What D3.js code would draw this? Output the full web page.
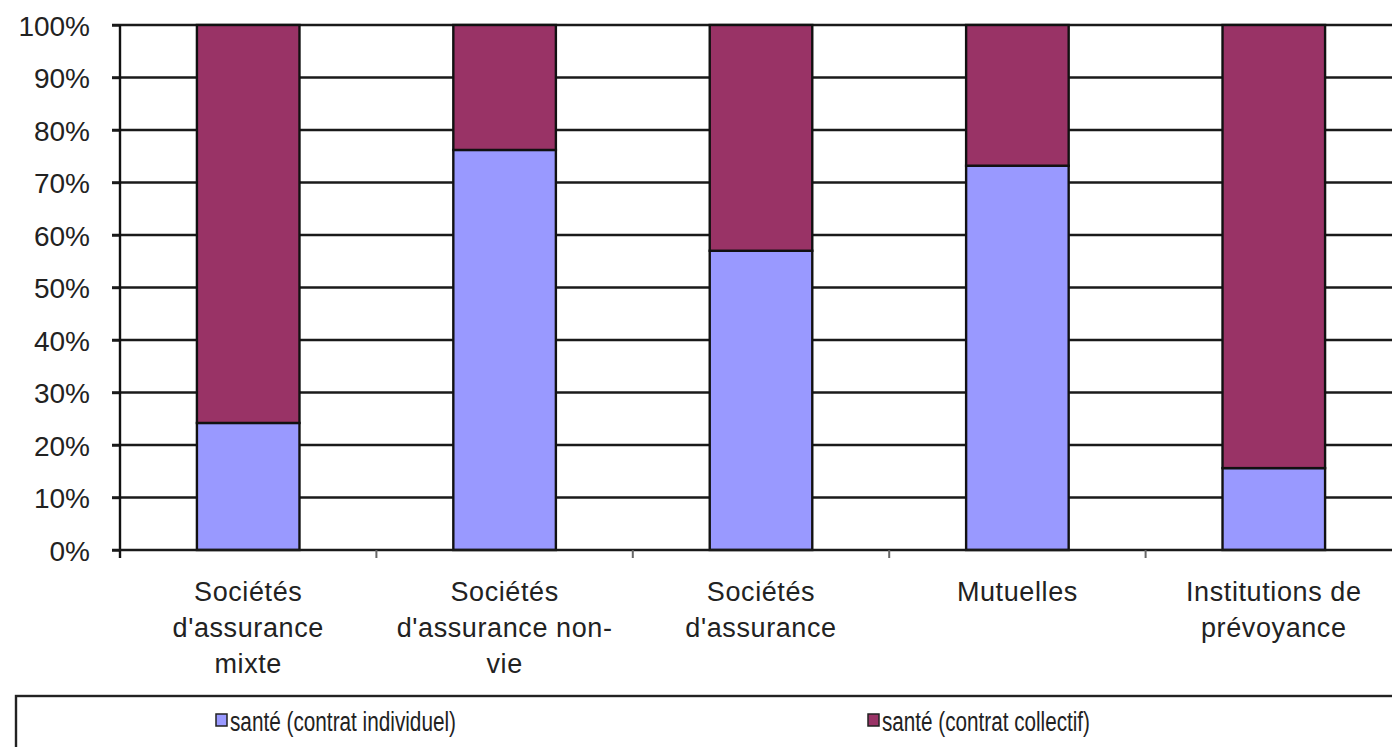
<!DOCTYPE html>
<html>
<head>
<meta charset="utf-8">
<script src="https://cdn.jsdelivr.net/npm/d3@7"></script>
<style>
  body { margin: 0; background: #fff; }
  svg { display: block; font-family: "Liberation Sans", Arial, sans-serif; }
</style>
</head>
<body>
<div id="chart"></div>
<script>
// chart values
var categories = ["mixte", "nonvie", "assurance", "mutuelles", "ip"];
var categoryLabels = [
    ["Sociétés", "d'assurance", "mixte"],
    ["Sociétés", "d'assurance non-", "vie"],
    ["Sociétés", "d'assurance"],
    ["Mutuelles"],
    ["Institutions de", "prévoyance"]
];
var individuel = [24.2, 76.2, 57.0, 73.2, 15.6];
var collectif = [75.8, 23.8, 43.0, 26.8, 84.4];
var seriesNames = ["santé  (contrat individuel)", "santé (contrat collectif)"];
var seriesColors = ["#9999ff", "#993366"];
var yTicks = [0, 10, 20, 30, 40, 50, 60, 70, 80, 90, 100];

var width = 1392;
var height = 747;
var margin = {top: 25, right: -10, bottom: 197, left: 120};

var svg = d3.select("#chart")
    .append("svg")
    .attr("width", width)
    .attr("height", height);

var x = d3.scaleBand()
    .domain(categories)
    .range([margin.left, width - margin.right])
    .padding(0);

var y = d3.scaleLinear()
    .domain([0, 100])
    .range([height - margin.bottom, margin.top]);

var barWidth = x.bandwidth() * 0.4;

// gridlines
svg.append("g")
    .selectAll("line")
    .data(yTicks.filter(function (d) { return d > 0; }))
    .enter().append("line")
    .attr("x1", margin.left - 8)
    .attr("x2", width)
    .attr("y1", function (d) { return y(d); })
    .attr("y2", function (d) { return y(d); })
    .attr("stroke", "#1a1a1a")
    .attr("stroke-width", 2.4);

// y axis
var yAxis = svg.append("g")
    .attr("transform", "translate(" + margin.left + ",0)")
    .call(d3.axisLeft(y).tickValues(yTicks).tickSize(8).tickFormat(function (d) { return d + "%"; }));
yAxis.select(".domain").remove();
yAxis.append("line")
    .attr("x1", 0).attr("x2", 0)
    .attr("y1", y(100)).attr("y2", y(0) + 8)
    .attr("stroke", "#111").attr("stroke-width", 2.4);
yAxis.selectAll(".tick line").attr("stroke", "#1a1a1a").attr("stroke-width", 2.4);
yAxis.selectAll(".tick text")
    .attr("x", -30)
    .attr("dy", "0.36em")
    .attr("fill", "#222")
    .attr("font-size", "28px")
    .attr("font-family", "Liberation Sans, Arial, sans-serif");

// stacked bars
var stackData = categories.map(function (c, i) {
    return {cat: c, individuel: individuel[i], collectif: collectif[i]};
});
var stack = d3.stack().keys(["individuel", "collectif"])(stackData);

svg.append("g")
    .selectAll("g")
    .data(stack)
    .enter().append("g")
    .attr("fill", function (d, i) { return seriesColors[i]; })
    .selectAll("rect")
    .data(function (d) { return d; })
    .enter().append("rect")
    .attr("x", function (d) { return x(d.data.cat) + (x.bandwidth() - barWidth) / 2; })
    .attr("y", function (d) { return y(d[1]); })
    .attr("width", barWidth)
    .attr("height", function (d) { return y(d[0]) - y(d[1]); })
    .attr("stroke", "#111")
    .attr("stroke-width", 2.4);

// x axis
var xAxis = svg.append("g")
    .attr("transform", "translate(0," + y(0) + ")");
xAxis.append("line")
    .attr("x1", margin.left - 8).attr("x2", width)
    .attr("stroke", "#1a1a1a").attr("stroke-width", 2.4);
xAxis.selectAll(".sep")
    .data(categories.slice(1))
    .enter().append("line")
    .attr("class", "sep")
    .attr("x1", function (d) { return x(d); })
    .attr("x2", function (d) { return x(d); })
    .attr("y1", 0).attr("y2", 8)
    .attr("stroke", "#666").attr("stroke-width", 2);

var labels = svg.append("g")
    .selectAll("text")
    .data(categories)
    .enter().append("text")
    .attr("text-anchor", "middle")
    .attr("fill", "#222")
    .attr("font-size", "27px")
    .attr("letter-spacing", "0.6px")
    .attr("transform", function (d) {
        return "translate(" + (x(d) + x.bandwidth() / 2) + "," + (y(0) + 51) + ")";
    });
labels.selectAll("tspan")
    .data(function (d, i) { return categoryLabels[i]; })
    .enter().append("tspan")
    .attr("x", 0)
    .attr("dy", function (d, i) { return i === 0 ? 0 : 36; })
    .text(function (d) { return d; });

// legend
var legend = svg.append("g");
legend.append("rect")
    .attr("x", 16)
    .attr("y", 696)
    .attr("width", width)
    .attr("height", 80)
    .attr("fill", "none")
    .attr("stroke", "#222")
    .attr("stroke-width", 2.4);

var legendX = [216, 868];
var legendLen = [226, 208];
var items = legend.selectAll(".item")
    .data(seriesNames)
    .enter().append("g")
    .attr("class", "item")
    .attr("transform", function (d, i) { return "translate(" + legendX[i] + ",714)"; });
items.append("rect")
    .attr("width", 11)
    .attr("height", 12)
    .attr("fill", function (d, i) { return seriesColors[i]; })
    .attr("stroke", "#222")
    .attr("stroke-width", 1.5);
items.append("text")
    .attr("x", 14)
    .attr("y", 17)
    .attr("fill", "#222")
    .attr("font-size", "27px")
    .attr("textLength", function (d, i) { return legendLen[i]; })
    .attr("lengthAdjust", "spacingAndGlyphs")
    .text(function (d) { return d; });
</script>
</body>
</html>
